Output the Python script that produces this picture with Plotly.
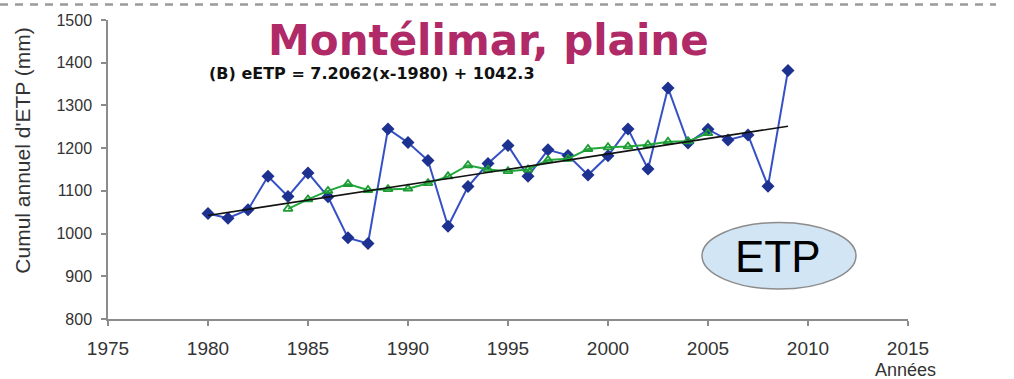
import plotly.graph_objects as go

# Annual cumulative ETP at Montélimar (plain), mm
years = list(range(1980, 2010))
etp = [1047, 1036, 1056, 1134, 1087, 1142, 1086, 990, 977, 1245,
       1213, 1171, 1017, 1110, 1164, 1206, 1134, 1196, 1183, 1137,
       1182, 1245, 1151, 1341, 1212, 1244, 1219, 1231, 1111, 1382]

# Smoothed series (moving average)
smooth_years = list(range(1984, 2006))
smooth_etp = [1058, 1080, 1100, 1116, 1102, 1104, 1105, 1118, 1134, 1160,
              1150, 1146, 1150, 1172, 1175, 1198, 1202, 1204, 1208, 1215,
              1216, 1235]

# Linear trend eETP = slope*(x-1980) + intercept
trend_slope = 7.2062
trend_intercept = 1042.3
trend_years = [1980, 2009]
trend_vals = [trend_slope * (y - 1980) + trend_intercept for y in trend_years]

x_ticks = [1975, 1980, 1985, 1990, 1995, 2000, 2005, 2010, 2015]
y_ticks = [800, 900, 1000, 1100, 1200, 1300, 1400, 1500]

fig = go.Figure()

fig.add_trace(go.Scatter(
    x=years, y=etp, mode="lines+markers",
    line=dict(color="#3550c4", width=2),
    marker=dict(symbol="diamond", size=10, color="#1c3190"),
    showlegend=False,
))
fig.add_trace(go.Scatter(
    x=smooth_years, y=smooth_etp, mode="lines+markers",
    line=dict(color="#22a83c", width=2),
    marker=dict(symbol="triangle-up-open", size=8, color="#1e9a34",
                line=dict(width=1.8)),
    showlegend=False,
))
fig.add_trace(go.Scatter(
    x=trend_years, y=trend_vals, mode="lines",
    line=dict(color="#111111", width=1.6),
    showlegend=False,
))

axis_common = dict(
    showline=True, linecolor="#8c8c8c", linewidth=1.5,
    ticks="outside", ticklen=5, tickcolor="#8c8c8c", tickwidth=1.5,
    showgrid=False, zeroline=False,
)

fig.update_xaxes(
    range=[1975, 2015], tickvals=x_ticks,
    tickfont=dict(family="Liberation Sans", size=19, color="#333333"),
    ticklabelstandoff=6,
    **axis_common,
)
fig.update_yaxes(
    range=[800, 1500], tickvals=y_ticks,
    tickfont=dict(family="Liberation Sans", size=16, color="#333333"),
    ticklabelstandoff=6,
    **axis_common,
)

# Ellipse tag
fig.add_shape(
    type="circle", xref="x", yref="y",
    x0=2004.7, x1=2012.4, y0=870, y1=1026,
    fillcolor="#d2e5f5", line=dict(color="#8c8c8c", width=1.5),
    layer="above",
)

# Dashed frame edge along the top
fig.add_shape(
    type="line", xref="paper", yref="paper",
    x0=-0.135, x1=1.11, y0=1.052, y1=1.052,
    line=dict(color="#9a9a9a", width=2.5, dash="8px,7px"),
)

annotations = [
    dict(text="Montélimar, plaine", x=488, y=38,
         font=dict(family="DejaVu Sans", size=42, color="#b02a68", weight="bold")),
    dict(text="(B) eETP = 7.2062(x-1980) + 1042.3", x=372, y=71,
         font=dict(family="DejaVu Sans", size=16, color="#111111", weight="bold")),
    dict(text="ETP", x=778, y=256,
         font=dict(family="Liberation Sans", size=44, color="#000000")),
    dict(text="Années", x=905, y=371,
         font=dict(family="Liberation Sans", size=18, color="#333333")),
    dict(text="Cumul annuel d'ETP (mm)", x=23, y=149, textangle=-90,
         font=dict(family="Liberation Sans", size=21, color="#333333")),
]

W, H = 1014, 379
L, R, T, B = 108, 106, 17, 60
pw, ph = W - L - R, H - T - B
for a in annotations:
    px, py = a.pop("x"), a.pop("y")
    fig.add_annotation(
        x=(px - L) / pw, y=(H - B - py) / ph, xref="paper", yref="paper",
        xanchor="center", yanchor="middle", showarrow=False, **a,
    )

fig.update_layout(
    width=W, height=H,
    margin=dict(l=L, r=R, t=T, b=B),
    paper_bgcolor="white", plot_bgcolor="white",
)

fig.write_html("out.html")
